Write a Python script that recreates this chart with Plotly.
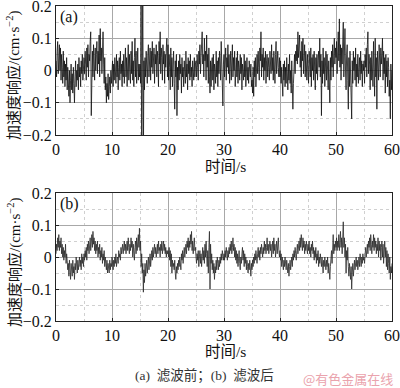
import plotly.graph_objects as go

time_step = 0.1

# (a) before filtering, acceleration response (cm/s^2), one value every 0.1 s
accel_before = [
    0.03, -0.02, 0.06, 0.09, -0.01, 0.04, 0.08, 0.00, 0.07, -0.03,
    0.05, 0.01, -0.04, 0.06, -0.02, 0.03, -0.05, 0.02, -0.03, 0.04,
    -0.06, 0.01, -0.04, -0.08, 0.00, -0.10, -0.03, 0.02, -0.06, -0.01,
    -0.07, 0.01, -0.04, -0.10, -0.02, 0.03, -0.05, 0.00, -0.03, 0.02,
    -0.06, 0.04, -0.02, 0.01, -0.05, 0.03, -0.01, 0.05, -0.03, 0.02,
    0.04, -0.01, 0.06, 0.02, -0.03, 0.07, 0.01, 0.08, -0.02, 0.05,
    0.03, 0.09, 0.12, -0.14, 0.04, 0.06, -0.02, 0.08, 0.02, -0.03,
    0.07, 0.00, 0.05, 0.09, -0.01, 0.06, 0.02, 0.11, -0.02, 0.13,
    0.03, 0.07, -0.01, 0.05, 0.12, 0.02, -0.04, 0.04, -0.06, -0.02,
    -0.10, -0.04, -0.08, -0.01, -0.09, -0.05, -0.02, -0.07, 0.00, -0.04,
    -0.01, 0.03, -0.05, 0.02, -0.03, 0.04, 0.00, -0.04, 0.05, -0.02,
    0.03, -0.06, 0.01, 0.04, -0.03, 0.06, -0.01, 0.02, -0.05, 0.03,
    -0.02, 0.05, -0.04, 0.01, 0.07, -0.02, 0.04, -0.05, 0.02, 0.08,
    -0.03, 0.05, 0.00, -0.04, 0.06, -0.01, 0.09, -0.03, 0.03, -0.05,
    0.04, 0.10, -0.02, 0.06, -0.04, 0.03, 0.07, -0.03, 0.02, -0.02,
    0.02, -0.04, 0.30, -0.30, 0.05, 0.28, -0.30, 0.03, -0.06, 0.04,
    -0.02, 0.06, 0.01, -0.04, 0.05, 0.08, -0.02, 0.03, 0.07, -0.03,
    0.06, 0.01, 0.09, -0.01, 0.04, 0.07, -0.04, 0.05, 0.02, 0.08,
    -0.02, 0.06, 0.03, -0.05, 0.09, 0.02, 0.12, -0.01, 0.07, 0.04,
    -0.03, 0.08, 0.02, 0.06, -0.04, 0.05, 0.01, 0.07, 0.10, -0.02,
    0.08, -0.03, 0.05, 0.01, -0.06, 0.07, -0.02, 0.04, -0.05, 0.02,
    0.06, -0.04, -0.12, 0.03, -0.02, 0.05, -0.14, 0.01, -0.06, 0.03,
    -0.03, 0.05, -0.01, 0.02, -0.07, 0.04, -0.02, 0.01, -0.05, 0.03,
    0.00, -0.04, 0.06, -0.02, 0.02, -0.06, 0.04, -0.01, 0.03, -0.03,
    0.05, -0.02, 0.01, -0.05, 0.03, 0.00, -0.03, 0.04, -0.02, 0.02,
    0.03, -0.02, 0.05, 0.01, -0.03, 0.06, 0.02, 0.08, -0.01, 0.04,
    0.07, 0.12, 0.02, 0.05, -0.02, 0.10, 0.03, 0.06, -0.03, 0.11,
    0.01, 0.05, -0.04, 0.07, -0.02, -0.07, 0.03, -0.05, 0.02, 0.04,
    -0.03, 0.05, -0.06, 0.02, 0.00, -0.04, 0.06, -0.02, 0.03, -0.05,
    0.04, -0.01, 0.06, 0.02, -0.03, 0.09, 0.01, -0.06, -0.11, 0.02,
    0.05, -0.02, 0.03, 0.07, -0.03, 0.04, 0.01, 0.08, -0.01, 0.05,
    -0.04, 0.03, 0.06, -0.03, 0.02, 0.08, -0.02, 0.04, 0.00, 0.06,
    -0.05, 0.02, 0.04, -0.02, 0.06, -0.04, 0.03, 0.01, -0.03, 0.05,
    -0.01, 0.04, -0.06, 0.02, 0.00, -0.03, 0.05, -0.02, 0.03, -0.05,
    0.02, 0.04, -0.03, 0.01, -0.04, 0.03, 0.00, -0.02, 0.02, -0.05,
    -0.03, -0.07, 0.01, -0.08, 0.03, -0.02, 0.04, -0.05, 0.02, 0.05,
    -0.01, 0.06, 0.01, -0.03, 0.07, 0.03, 0.12, -0.02, 0.05, 0.01,
    0.07, -0.03, 0.04, 0.00, 0.06, -0.04, 0.03, 0.05, -0.02, 0.04,
    0.01, -0.03, 0.06, 0.02, -0.01, 0.08, 0.00, 0.04, -0.03, 0.06,
    0.02, -0.04, 0.05, 0.09, -0.01, 0.03, 0.06, 0.01, -0.02, 0.04,
    -0.02, 0.03, -0.04, 0.01, -0.06, -0.08, 0.02, -0.03, 0.03, -0.05,
    0.01, -0.04, 0.04, -0.02, -0.06, 0.02, -0.03, 0.05, -0.04, 0.00,
    -0.07, 0.03, -0.02, -0.12, -0.04, 0.02, 0.05, -0.01, 0.06, 0.03,
    0.08, 0.02, 0.12, 0.04, 0.07, 0.11, 0.01, 0.06, -0.02, 0.09,
    0.03, 0.10, -0.01, 0.05, 0.08, -0.02, 0.06, 0.02, -0.03, 0.05,
    0.02, -0.04, 0.06, 0.01, -0.02, 0.07, -0.05, 0.04, 0.00, 0.05,
    -0.03, 0.06, 0.02, -0.06, 0.04, -0.01, 0.05, -0.03, 0.03, 0.06,
    0.01, 0.10, -0.02, 0.05, -0.14, 0.03, -0.04, 0.07, -0.01, 0.04,
    -0.05, 0.02, 0.06, -0.03, 0.05, 0.00, -0.06, 0.03, -0.02, -0.10,
    0.04, -0.03, 0.06, 0.01, 0.08, -0.02, 0.05, 0.10, 0.02, 0.07,
    0.04, 0.09, -0.01, 0.06, 0.12, 0.03, 0.16, 0.01, 0.08, -0.03,
    0.07, 0.02, 0.11, 0.15, -0.02, 0.09, 0.13, 0.00, -0.06, 0.05,
    0.08, -0.03, -0.12, 0.04, -0.05, 0.06, -0.02, -0.08, -0.15, 0.03,
    -0.04, 0.06, 0.00, 0.04, -0.03, 0.07, -0.05, 0.02, -0.02, 0.05,
    -0.04, 0.01, 0.04, -0.03, 0.06, -0.01, 0.03, -0.05, 0.02, 0.00,
    0.03, -0.04, 0.05, 0.01, 0.07, -0.02, 0.08, 0.12, -0.01, 0.05,
    0.02, -0.06, 0.04, -0.03, 0.06, 0.01, -0.05, 0.09, 0.02, -0.08,
    0.10, -0.02, 0.04, -0.12, 0.06, 0.01, -0.03, 0.08, 0.03, -0.02,
    0.07, 0.02, 0.05, 0.10, -0.03, 0.06, -0.01, 0.04, -0.07, 0.05,
    -0.02, 0.03, -0.05, 0.04, 0.01, -0.08, -0.03, -0.15, 0.02, -0.06,
    0.00,
]

# (b) after filtering
accel_after = [
    0.01, 0.04, 0.02, 0.06, 0.03, 0.07, 0.02, 0.05, 0.03, 0.06,
    0.01, 0.04, 0.00, 0.03, -0.01, 0.02, 0.00, 0.04, -0.02, 0.01,
    -0.01, -0.04, -0.02, -0.06, -0.01, -0.05, -0.07, -0.02, -0.04, -0.06,
    -0.01, -0.05, -0.03, -0.07, -0.02, -0.04, 0.00, -0.03, -0.05, -0.01,
    -0.04, -0.02, 0.00, -0.03, -0.01, -0.04, 0.01, -0.02, 0.00, -0.03,
    0.01, -0.01, 0.02, 0.00, 0.03, -0.01, 0.04, 0.02, 0.05, 0.01,
    0.03, 0.06, 0.02, 0.05, 0.07, 0.03, 0.08, 0.04, 0.06, 0.02,
    0.05, 0.01, 0.04, 0.02, 0.05, 0.00, 0.03, 0.01, 0.04, -0.01,
    0.02, 0.00, 0.03, -0.02, 0.01, -0.01, 0.02, -0.03, 0.00, -0.02,
    -0.04, -0.01, -0.05, -0.02, -0.03, -0.05, -0.01, -0.04, -0.02, -0.03,
    0.00, -0.02, -0.04, -0.01, -0.03, 0.00, -0.02, 0.01, -0.03, -0.01,
    0.00, -0.02, 0.02, 0.00, 0.01, -0.01, 0.03, 0.01, 0.02, 0.04,
    0.01, 0.03, 0.05, 0.02, 0.04, 0.01, 0.03, 0.05, 0.02, 0.06,
    0.03, 0.01, 0.04, 0.02, 0.06, 0.03, 0.05, 0.00, 0.04, 0.02,
    -0.01, 0.03, 0.05, 0.01, 0.06, 0.02, 0.04, 0.07, 0.03, 0.09,
    0.02, 0.05, -0.03, 0.01, -0.05, -0.02, -0.11, -0.04, -0.08, -0.02,
    -0.06, -0.03, -0.01, -0.05, -0.02, 0.00, -0.04, -0.01, 0.01, -0.03,
    0.00, 0.02, -0.01, 0.03, 0.00, 0.02, 0.04, 0.01, 0.03, 0.00,
    0.02, 0.04, 0.01, 0.05, 0.02, 0.03, 0.00, 0.04, 0.02, 0.05,
    0.01, 0.03, 0.05, 0.02, 0.04, 0.01, 0.03, 0.00, 0.02, 0.01,
    0.02, 0.00, 0.03, -0.01, 0.02, -0.03, 0.01, -0.05, -0.01, -0.03,
    -0.02, -0.04, -0.01, -0.05, -0.07, -0.03, -0.05, -0.02, -0.04, -0.01,
    -0.03, 0.00, -0.02, -0.04, 0.01, -0.01, 0.02, -0.02, 0.01, 0.03,
    0.00, 0.02, 0.04, 0.01, 0.05, 0.03, 0.06, 0.02, 0.05, 0.03,
    0.07, 0.04, 0.08, 0.02, 0.05, 0.01, 0.04, 0.06, 0.02, 0.03,
    0.00, -0.02, 0.01, -0.01, 0.02, -0.03, 0.00, 0.02, -0.02, 0.01,
    -0.03, 0.00, 0.03, -0.01, 0.02, -0.02, 0.04, 0.00, 0.05, 0.01,
    -0.03, 0.02, -0.05, 0.03, 0.08, -0.10, 0.04, -0.02, 0.01, -0.04,
    -0.01, -0.05, -0.02, -0.07, -0.03, -0.05, -0.01, -0.04, 0.00, -0.02,
    -0.04, -0.01, -0.03, 0.00, -0.02, 0.01, -0.01, 0.02, 0.00, -0.01,
    0.01, -0.01, 0.02, 0.00, 0.03, 0.01, -0.01, 0.02, 0.00, 0.03,
    0.01, 0.04, 0.02, 0.05, 0.01, 0.03, 0.06, 0.02, 0.04, 0.00,
    0.03, -0.01, 0.02, -0.02, 0.01, -0.03, 0.00, 0.02, -0.02, -0.04,
    0.00, -0.02, 0.01, 0.03, -0.01, 0.02, -0.03, 0.01, -0.02, 0.00,
    -0.04, -0.01, -0.03, -0.05, -0.02, -0.04, -0.01, -0.03, -0.06, -0.02,
    -0.04, -0.01, -0.03, 0.00, -0.02, 0.01, -0.01, 0.02, 0.00, -0.02,
    0.01, 0.03, 0.00, 0.02, -0.01, 0.03, 0.01, 0.04, 0.02, 0.00,
    0.03, 0.01, 0.05, 0.02, 0.04, 0.01, 0.03, 0.06, 0.02, 0.04,
    0.01, 0.03, 0.05, 0.02, 0.04, 0.00, 0.03, 0.05, 0.01, 0.06,
    0.02, 0.04, 0.00, 0.03, 0.05, 0.01, 0.04, 0.06, 0.02, 0.00,
    0.02, -0.01, 0.01, -0.03, 0.00, -0.02, -0.04, -0.01, -0.03, 0.00,
    -0.02, -0.04, -0.01, -0.03, -0.05, -0.02, -0.06, -0.03, -0.01, -0.04,
    -0.02, 0.00, -0.03, 0.01, -0.01, 0.02, 0.00, 0.03, 0.01, -0.01,
    0.02, 0.04, 0.01, 0.03, 0.05, 0.02, 0.06, 0.03, 0.07, 0.04,
    0.02, 0.06, 0.03, 0.05, 0.01, 0.04, 0.02, 0.05, 0.03, 0.01,
    0.04, 0.02, 0.05, 0.01, 0.03, 0.00, 0.04, 0.02, 0.05, 0.01,
    0.03, -0.01, 0.02, 0.00, 0.03, -0.02, 0.01, -0.01, 0.02, -0.03,
    0.00, -0.02, 0.01, -0.01, -0.03, 0.00, -0.02, -0.05, -0.01, -0.03,
    0.00, -0.02, -0.04, -0.01, -0.03, 0.00, -0.05, -0.02, -0.04, -0.07,
    -0.03, -0.01, 0.02, -0.02, 0.04, 0.07, 0.01, 0.04, 0.02, 0.05,
    0.03, 0.06, 0.02, 0.05, 0.03, 0.07, 0.02, 0.04, 0.08, 0.03,
    0.06, 0.01, 0.05, 0.11, 0.03, 0.06, 0.00, 0.04, -0.05, 0.02,
    -0.01, 0.03, -0.03, -0.06, -0.02, -0.04, -0.07, -0.03, -0.10, -0.05,
    -0.02, -0.06, -0.03, -0.01, -0.04, -0.02, 0.00, -0.03, -0.01, -0.04,
    -0.02, 0.00, -0.03, 0.01, -0.01, -0.03, 0.00, -0.02, 0.01, -0.01,
    0.00, -0.02, 0.01, 0.03, 0.00, 0.02, 0.04, 0.01, 0.05, 0.03,
    0.06, 0.02, 0.07, 0.04, 0.01, 0.05, 0.03, 0.07, 0.02, 0.06,
    0.03, 0.05, 0.01, 0.04, 0.02, 0.06, 0.00, 0.05, 0.02, 0.04,
    -0.01, 0.03, 0.05, 0.00, 0.04, -0.02, 0.02, 0.05, 0.00, 0.03,
    -0.03, 0.02, -0.04, 0.01, -0.02, -0.05, 0.00, -0.07, -0.03, -0.05,
    -0.02,
]

x_ticks = [0, 10, 20, 30, 40, 50, 60]
y_ticks = [-0.2, -0.1, 0, 0.1, 0.2]
y_tick_text = ["\u22120.2", "\u22120.1", "0", "0.1", "0.2"]
panel_labels = ["(a)", "(b)"]
x_title = "时间/s"
y_title = "加速度响应/(cm·s<sup>−2</sup>)"
caption = "(a)  滤波前；(b)  滤波后"
watermark = "@有色金属在线"

time_a = [round(i * time_step, 3) for i in range(len(accel_before))]
time_b = [round(i * time_step, 3) for i in range(len(accel_after))]

W, H = 400, 388
def px(x):
    return x / W
def py(y):
    return 1 - y / H

SERIF = "Liberation Serif, Times New Roman, serif"
CJK = "Liberation Serif, Noto Sans CJK SC, serif"

fig = go.Figure()
fig.add_trace(go.Scatter(x=time_a, y=accel_before, mode="lines",
                         line=dict(color="#111111", width=0.8),
                         xaxis="x", yaxis="y", showlegend=False))
fig.add_trace(go.Scatter(x=time_b, y=accel_after, mode="lines",
                         line=dict(color="#2a2a2a", width=0.8),
                         xaxis="x2", yaxis="y2", showlegend=False))

def xaxis(dom, anchor):
    return dict(domain=dom, anchor=anchor, range=[0, 60], tickvals=x_ticks,
                automargin=False, ticklabeloverflow="allow", ticklabelstandoff=0,
                showline=True, mirror=True, linecolor="#222", linewidth=1,
                ticks="inside", ticklen=3, tickcolor="#222",
                showgrid=True, gridcolor="#a8a8a8", gridwidth=1,
                minor=dict(dtick=5, tick0=0, showgrid=True, gridcolor="#d0d0d0",
                           griddash="dot", ticks=""),
                zeroline=False,
                tickfont=dict(family=SERIF, size=16, color="#111"))

def yaxis(dom, anchor):
    return dict(domain=dom, anchor=anchor, range=[-0.2, 0.2], tickvals=y_ticks,
                ticktext=y_tick_text, automargin=False, ticklabeloverflow="allow",
                showline=True, mirror=True, linecolor="#222", linewidth=1,
                ticks="inside", ticklen=3, tickcolor="#222",
                showgrid=True, gridcolor="#a8a8a8", gridwidth=1,
                minor=dict(dtick=0.05, tick0=0, showgrid=True, gridcolor="#d0d0d0",
                           griddash="dot", ticks=""),
                zeroline=False,
                tickfont=dict(family=SERIF, size=16, color="#111"))

xd = [px(56), px(392)]
fig.update_layout(
    width=W, height=H,
    margin=dict(l=0, r=0, t=0, b=0, autoexpand=False),
    paper_bgcolor="white", plot_bgcolor="white",
    xaxis=xaxis(xd, "y"),
    yaxis=yaxis([py(135), py(6)], "x"),
    xaxis2=xaxis(xd, "y2"),
    yaxis2=yaxis([py(321), py(193)], "x2"),
)

ann = []
ann.append(dict(x=px(58), y=py(17), text=panel_labels[0], showarrow=False,
                xanchor="left", yanchor="middle", font=dict(family=SERIF, size=16, color="#111")))
ann.append(dict(x=px(58), y=py(204), text=panel_labels[1], showarrow=False,
                xanchor="left", yanchor="middle", font=dict(family=SERIF, size=16, color="#111")))
for yc in (166, 351):
    ann.append(dict(x=px(225), y=py(yc), text=x_title, showarrow=False,
                    xanchor="center", yanchor="middle",
                    font=dict(family=CJK, size=15.5, color="#111")))
for yc in (75, 262):
    ann.append(dict(x=px(14), y=py(yc), text=y_title, showarrow=False, textangle=-90,
                    xanchor="center", yanchor="middle",
                    font=dict(family=CJK, size=15, color="#111")))
ann.append(dict(x=px(205), y=py(375), text=caption, showarrow=False,
                xanchor="center", yanchor="middle",
                font=dict(family=CJK, size=13.5, color="#333")))
ann.append(dict(x=px(395), y=py(378), text=watermark, showarrow=False,
                xanchor="right", yanchor="middle",
                font=dict(family="Noto Sans CJK SC, sans-serif", size=13, color="#eaa3ad")))
for a in ann:
    a.update(xref="paper", yref="paper")
fig.update_layout(annotations=ann)

fig.write_html("out.html", config={"displayModeBar": False},
               post_script="document.body.style.margin='0';document.body.style.overflow='hidden';")
